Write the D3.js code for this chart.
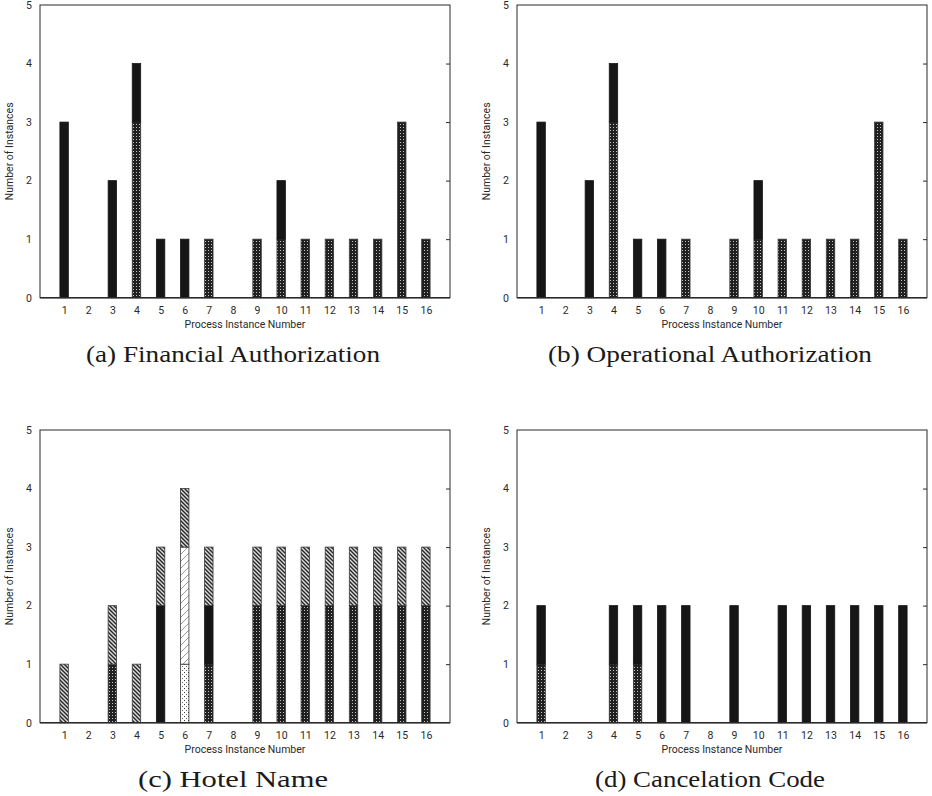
<!DOCTYPE html>
<html>
<head>
<meta charset="utf-8">
<script src="https://cdn.jsdelivr.net/npm/d3@7"></script>
<style>
  html, body { margin: 0; padding: 0; background: #fff; }
  svg { display: block; }
  .tick-label { font-family: Roboto, "Liberation Sans", sans-serif; font-size: 10.5px; fill: #2a2a2a; }
  .axis-title { font-family: Roboto, "Liberation Sans", sans-serif; font-size: 10.5px; fill: #2a2a2a; }
  .caption { font-family: "Liberation Serif", "DejaVu Serif", serif; font-size: 23px; fill: #1a1a1a; }
</style>
</head>
<body>
<svg id="chart" width="932" height="796"></svg>
<script>
// Process instances along the x axis and the value ticks on the y axis
const instances = [1, 2, 3, 4, 5, 6, 7, 8, 9, 10, 11, 12, 13, 14, 15, 16];
const yTicks = [0, 1, 2, 3, 4, 5];

// (a) Financial Authorization
const finChecker = [0, 0, 0, 3, 0, 0, 1, 0, 1, 1, 1, 1, 1, 1, 3, 1];
const finSolid   = [3, 0, 2, 1, 1, 1, 0, 0, 0, 1, 0, 0, 0, 0, 0, 0];

// (b) Operational Authorization
const opChecker = [0, 0, 0, 3, 0, 0, 1, 0, 1, 1, 1, 1, 1, 1, 3, 1];
const opSolid   = [3, 0, 2, 1, 1, 1, 0, 0, 0, 1, 0, 0, 0, 0, 0, 0];

// (c) Hotel Name
const hotelChecker = [0, 0, 1, 0, 0, 0, 1, 0, 2, 2, 2, 2, 2, 2, 2, 2];
const hotelSolid   = [0, 0, 0, 0, 2, 0, 1, 0, 0, 0, 0, 0, 0, 0, 0, 0];
const hotelDotted  = [0, 0, 0, 0, 0, 1, 0, 0, 0, 0, 0, 0, 0, 0, 0, 0];
const hotelSlash   = [0, 0, 0, 0, 0, 2, 0, 0, 0, 0, 0, 0, 0, 0, 0, 0];
const hotelHatch   = [1, 0, 1, 1, 1, 1, 1, 0, 1, 1, 1, 1, 1, 1, 1, 1];

// (d) Cancelation Code
const cancelChecker = [1, 0, 0, 1, 1, 0, 0, 0, 0, 0, 0, 0, 0, 0, 0, 0];
const cancelSolid   = [1, 0, 0, 1, 1, 2, 2, 0, 2, 0, 2, 2, 2, 2, 2, 2];

const captions = ["(a) Financial Authorization", "(b) Operational Authorization",
                  "(c) Hotel Name", "(d) Cancelation Code"];

const svg = d3.select("#chart");
const defs = svg.append("defs");

// Fill patterns for the stacked segments
function addPattern(id, size, bg, draw) {
  const p = defs.append("pattern").attr("id", id)
    .attr("patternUnits", "userSpaceOnUse").attr("width", size).attr("height", size);
  p.append("rect").attr("width", size).attr("height", size).attr("fill", bg);
  draw(p);
}
addPattern("pChecker", 3, "#202020", p => {
  p.append("rect").attr("x", 1).attr("y", 1).attr("width", 1).attr("height", 1).attr("fill", "#c4c4c4");
});
addPattern("pHatch", 4, "#dcdcdc", p => {
  p.append("path").attr("d", "M-1,-1 L5,5 M-1,3 L1,5 M3,-1 L5,1")
    .attr("stroke", "#262626").attr("stroke-width", 1.4);
});
addPattern("pSlash", 7, "#ffffff", p => {
  p.append("path").attr("d", "M-1,8 L8,-1 M-1,1 L1,-1 M6,8 L8,6")
    .attr("stroke", "#9a9a9a").attr("stroke-width", 1);
});
addPattern("pDotted", 4, "#ffffff", p => {
  p.append("rect").attr("x", 0).attr("y", 0).attr("width", 1).attr("height", 1).attr("fill", "#333");
  p.append("rect").attr("x", 2).attr("y", 2).attr("width", 1).attr("height", 1).attr("fill", "#666");
});

const fills = {
  checker: "url(#pChecker)",
  solid: "#161616",
  dotted: "url(#pDotted)",
  slash: "url(#pSlash)",
  hatch: "url(#pHatch)"
};

const panels = [
  { box: [40, 450, 5, 297.7],   cap: [233, 362], series: { checker: finChecker, solid: finSolid } },
  { box: [517, 927, 5, 297.7],  cap: [710, 362], series: { checker: opChecker, solid: opSolid } },
  { box: [40, 450, 430, 722.7], cap: [233, 787], series: { checker: hotelChecker, solid: hotelSolid,
      dotted: hotelDotted, slash: hotelSlash, hatch: hotelHatch } },
  { box: [517, 927, 430, 722.7], cap: [710, 787], series: { checker: cancelChecker, solid: cancelSolid } }
];
const captionWidths = [294, 324, 190, 230];

panels.forEach((pn, i) => {
  const [x0, x1, y0, y1] = pn.box;
  const x = d3.scaleLinear().domain([0, 17]).range([x0, x1]);
  const y = d3.scaleLinear().domain([0, 5]).range([y1, y0]);
  const g = svg.append("g");
  const barW = (x(1) - x(0)) * 0.35;

  const keys = Object.keys(pn.series);
  const rows = instances.map((n, j) => {
    const r = { n };
    keys.forEach(k => { r[k] = pn.series[k][j]; });
    return r;
  });
  const stacked = d3.stack().keys(keys)(rows);

  stacked.forEach(layer => {
    g.selectAll(null).data(layer.filter(d => d[1] > d[0])).join("rect")
      .attr("x", d => x(d.data.n) - barW / 2)
      .attr("width", barW)
      .attr("y", d => y(d[1]))
      .attr("height", d => y(d[0]) - y(d[1]))
      .attr("fill", fills[layer.key])
      .attr("stroke", layer.key === "solid" ? "#161616" : "#3a3a3a")
      .attr("stroke-width", 0.8);
  });

  // frame
  g.append("rect").attr("x", x0).attr("y", y0).attr("width", x1 - x0).attr("height", y1 - y0)
    .attr("fill", "none").attr("stroke", "#2a2a2a").attr("stroke-width", 1);
  g.append("line").attr("x1", x0).attr("x2", x1).attr("y1", y1).attr("y2", y1)
    .attr("stroke", "#2a2a2a").attr("stroke-width", 1.6);

  // y axis labels and mirrored ticks on the right border
  const yAxis = d3.axisLeft(y).tickValues(yTicks).tickSize(0).tickPadding(8).tickFormat(d3.format("d"));
  const ya = g.append("g").attr("transform", `translate(${x0},0)`).call(yAxis);
  ya.select(".domain").remove();
  ya.selectAll("text").attr("class", "tick-label").attr("font-family", null).attr("font-size", null);
  const yRight = d3.axisRight(y).tickValues(yTicks.filter(v => v > 0 && v < 5)).tickSize(-4).tickFormat("");
  const yr = g.append("g").attr("transform", `translate(${x1},0)`).call(yRight);
  yr.select(".domain").remove();
  yr.selectAll("line").attr("stroke", "#2a2a2a");

  // x axis labels
  const xAxis = d3.axisBottom(x).tickValues(instances).tickSize(0).tickPadding(9).tickFormat(d3.format("d"));
  const xa = g.append("g").attr("transform", `translate(0,${y1})`).call(xAxis);
  xa.select(".domain").remove();
  xa.selectAll("text").attr("class", "tick-label").attr("font-family", null).attr("font-size", null);

  g.append("text").attr("class", "axis-title")
    .attr("x", (x0 + x1) / 2).attr("y", y1 + 30).attr("text-anchor", "middle")
    .text("Process Instance Number");
  g.append("text").attr("class", "axis-title")
    .attr("transform", `translate(${x0 - 27},${(y0 + y1) / 2}) rotate(-90)`)
    .attr("text-anchor", "middle")
    .text("Number of Instances");

  svg.append("text").attr("class", "caption")
    .attr("x", pn.cap[0]).attr("y", pn.cap[1]).attr("text-anchor", "middle")
    .attr("textLength", captionWidths[i]).attr("lengthAdjust", "spacingAndGlyphs")
    .text(captions[i]);
});
</script>
</body>
</html>
